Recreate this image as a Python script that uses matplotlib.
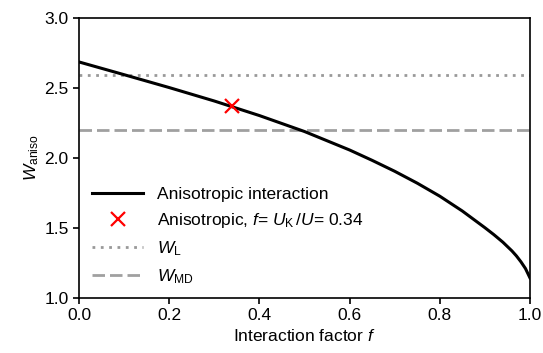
import matplotlib
matplotlib.use("Agg")
import matplotlib.pyplot as plt

# values
f_vals = [0.0, 0.1, 0.2, 0.3, 0.4, 0.5, 0.6, 0.65, 0.7, 0.75, 0.8, 0.85, 0.9, 0.92, 0.94, 0.96, 0.97, 0.98, 0.99, 1.0]
w_vals = [2.686, 2.595, 2.503, 2.407, 2.303, 2.189, 2.057, 1.983, 1.905, 1.820, 1.727, 1.621, 1.502,
          1.452, 1.398, 1.336, 1.300, 1.258, 1.210, 1.143]
f_marker = 0.34
w_marker = 2.368
w_L = 2.593
w_MD = 2.20

plt.rcParams['font.family'] = ['Liberation Sans', 'DejaVu Sans']
plt.rcParams['mathtext.fontset'] = 'custom'
plt.rcParams['mathtext.rm'] = 'Liberation Sans'
plt.rcParams['mathtext.it'] = 'Liberation Sans:italic'
plt.rcParams['font.size'] = 12.5

fig = plt.figure(figsize=(5.43, 3.53), dpi=100)
ax = fig.add_axes([0.1455, 0.156, 0.8305, 0.793])

ax.plot(f_vals, w_vals, color='black', lw=2.2, label='Anisotropic interaction', zorder=3)
ax.plot([f_marker], [w_marker], 'x', color='red', ms=9.5, mew=1.6,
        label=r'Anisotropic, $f$= $U_{\rm K}\,/U$= 0.34', zorder=4)
ax.axhline(w_L, color='#999999', lw=2, ls=(0, (1, 2)), label=r'$W_{\rm L}$')
ax.axhline(w_MD, color='#a0a0a0', lw=2, ls=(0, (4.5, 1.8)), label=r'$W_{\rm MD}$')

ax.set_xlim(0, 1)
ax.set_ylim(1, 3)
ax.set_xticks([0, 0.2, 0.4, 0.6, 0.8, 1.0])
ax.set_yticks([1.0, 1.5, 2.0, 2.5, 3.0])
ax.set_xlabel(r'Interaction factor $f$', labelpad=3)
ax.set_ylabel(r'$W_{\rm aniso}$', labelpad=2)
for s in ax.spines.values():
    s.set_linewidth(1.2)
ax.tick_params(width=1.2, length=4)

ax.legend(loc='lower left', bbox_to_anchor=(-0.005, -0.012), frameon=False,
          handlelength=2.9, labelspacing=0.52)

fig.savefig('out.png', dpi=100)
